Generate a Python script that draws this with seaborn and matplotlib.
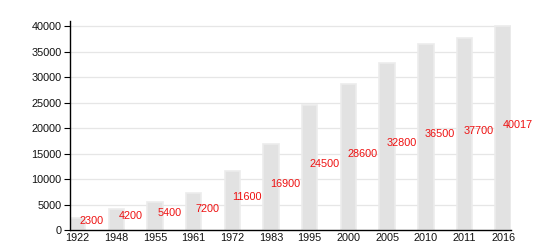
import matplotlib
matplotlib.use("Agg")
import matplotlib.pyplot as plt
import seaborn as sns
import pandas as pd

years = ["1922", "1948", "1955", "1961", "1972", "1983", "1995", "2000", "2005", "2010", "2011", "2016"]
population = [2300, 4200, 5400, 7200, 11600, 16900, 24500, 28600, 32800, 36500, 37700, 40017]
y_ticks = [0, 5000, 10000, 15000, 20000, 25000, 30000, 35000, 40000]

sns.set_theme(style="white")
plt.rcParams['font.family'] = ['Liberation Sans', 'DejaVu Sans']

df = pd.DataFrame({"year": years, "pop": population})

fig = plt.figure(figsize=(5.5, 2.5), dpi=100)
ax = fig.add_axes([0.127, 0.08, 0.802, 0.836])

for y in y_ticks[1:]:
    ax.axhline(y, color="#e6e6e6", linewidth=0.9, zorder=0)

sns.barplot(data=df, x="year", y="pop", color="#e2e2e2", saturation=1,
            width=0.4, edgecolor="#ececec", linewidth=1.2, ax=ax, zorder=2)

for i, v in enumerate(population):
    ax.text(i + 0.37, v / 2 + 600, str(v), color="#ee1111", fontsize=7.8,
            ha="center", va="center", zorder=3)

ax.set_xlim(-0.2, 11.2)
ax.set_ylim(0, 41000)
ax.set_yticks(y_ticks)
ax.set_xlabel("")
ax.set_ylabel("")
for s in ["top", "right"]:
    ax.spines[s].set_visible(False)
for s in ["left", "bottom"]:
    ax.spines[s].set_color("black")
    ax.spines[s].set_linewidth(1.0)
ax.tick_params(axis="y", which="both", left=True, length=4, width=0.8, color="black",
               labelsize=7.8, pad=2, labelcolor="#111111")
ax.tick_params(axis="x", bottom=False, length=0, labelsize=7.8, pad=2, labelcolor="#111111")

fig.savefig("out.png", dpi=100)
